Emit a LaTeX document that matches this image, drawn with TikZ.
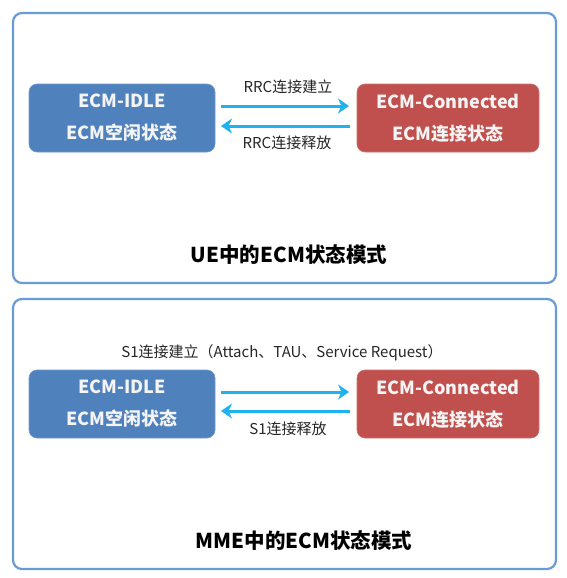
\documentclass[tikz,border=0pt]{standalone}
\usepackage{fontspec}
\setmainfont{Noto Sans CJK SC}
\usetikzlibrary{arrows.meta}
\definecolor{frameblue}{HTML}{6A9AD8}
\definecolor{idleblue}{HTML}{4F81BD}
\definecolor{connred}{HTML}{C0504D}
\definecolor{arrowcyan}{HTML}{1EB2EE}
\definecolor{boxtext}{HTML}{F4F4F4}
\definecolor{labeltext}{HTML}{262626}
\tikzset{
  frame/.style={draw=frameblue, line width=2.2pt, rounded corners=9pt, fill=white},
  statebox/.style={rounded corners=8pt, minimum width=186pt, minimum height=68pt,
    text=boxtext, font=\fontsize{18}{32}\selectfont\bfseries, align=center, inner sep=0pt},
  idle/.style={statebox, fill=idleblue, draw=idleblue!80!white, line width=0.6pt},
  conn/.style={statebox, fill=connred, draw=connred!80!white, line width=0.6pt, minimum width=182pt},
  flow/.style={draw=arrowcyan, line width=3pt, -{Stealth[length=11pt, width=15pt, inset=3.5pt]}},
  lbl/.style={font=\fontsize{15}{18}\selectfont, text=labeltext, inner sep=0pt},
  title/.style={font=\fontsize{20.5}{24}\selectfont\bfseries, text=black, inner sep=0pt}
}
\begin{document}
\begin{tikzpicture}[x=1pt, y=-1pt]
\useasboundingbox (0,0) rectangle (566,578);
\fill[white] (0,0) rectangle (566,578);
% top frame
\draw[frame] (13,13) rectangle (556,283);
\node[idle] (idle1) at (122,118) {ECM-IDLE\\ECM空闲状态};
\node[conn] (conn1) at (448,118) {ECM-Connected\\ECM连接状态};
\coordinate (a1s) at (221,106);
\coordinate (a1e) at (349,106);
\coordinate (b1s) at (350,126);
\coordinate (b1e) at (221,126);
\draw[flow] (a1s) -- (a1e);
\draw[flow] (b1s) -- (b1e);
\node[lbl] (l1) at (288,87) {RRC连接建立};
\node[lbl] (l2) at (287,143) {RRC连接释放};
\node[title] (t1) at (289,255) {UE中的ECM状态模式};
% bottom frame
\draw[frame] (13,299) rectangle (556,569);
\node[idle] (idle2) at (122,404) {ECM-IDLE\\ECM空闲状态};
\node[conn] (conn2) at (448,404) {ECM-Connected\\ECM连接状态};
\coordinate (a2s) at (221,392);
\coordinate (a2e) at (349,392);
\coordinate (b2s) at (350,411);
\coordinate (b2e) at (221,411);
\draw[flow] (a2s) -- (a2e);
\draw[flow] (b2s) -- (b2e);
\node[lbl] (l3) at (282,353) {S1连接建立（Attach、TAU、Service Request）};
\node[lbl] (l4) at (288,429) {S1连接释放};
\node[title] (t2) at (304,541) {MME中的ECM状态模式};
\end{tikzpicture}
\end{document}
